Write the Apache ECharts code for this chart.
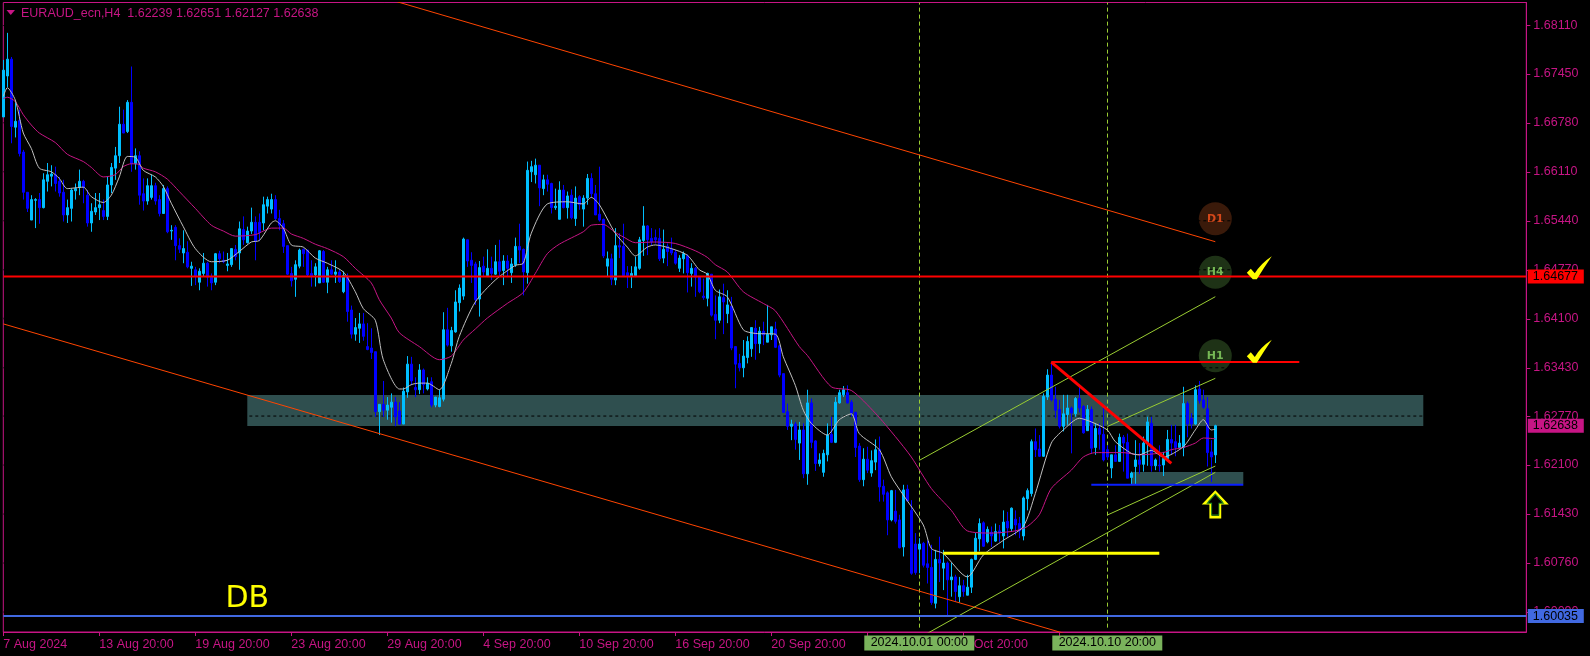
<!DOCTYPE html>
<html><head><meta charset="utf-8">
<style>html,body{margin:0;padding:0;background:#000}#c{width:1590px;height:656px}</style>
<script src="https://cdn.jsdelivr.net/npm/echarts@6/dist/echarts.min.js"></script>
</head><body><div id="c"></div>
<script>
const opens=[1.6686,1.6742,1.6765,1.6672,1.6681,1.6638,1.6583,1.6545,1.6572,1.6573,
1.6562,1.6598,1.6605,1.6607,1.6598,1.6583,1.6552,1.6561,1.6585,1.6590,
1.6598,1.6579,1.6541,1.6556,1.6562,1.6558,1.6550,1.6593,1.6616,1.6633,
1.6676,1.6666,1.6706,1.6622,1.6633,1.6581,1.6571,1.6576,1.6592,1.6573,
1.6554,1.6588,1.6530,1.6535,1.6510,1.6500,1.6501,1.6479,1.6477,1.6460,
1.6472,1.6486,1.6467,1.6460,1.6499,1.6490,1.6483,1.6484,1.6505,1.6500,
1.6532,1.6514,1.6530,1.6542,1.6542,1.6541,1.6564,1.6560,1.6573,1.6547,
1.6540,1.6510,1.6472,1.6464,1.6482,1.6505,1.6504,1.6472,1.6470,1.6459,
1.6502,1.6460,1.6477,1.6471,1.6474,1.6447,1.6468,1.6422,1.6389,1.6397,
1.6403,1.6372,1.6370,1.6365,1.6283,1.6293,1.6285,1.6289,1.6296,1.6284,
1.6266,1.6310,1.6348,1.6316,1.6313,1.6340,1.6314,1.6324,1.6292,1.6290,
1.6300,1.6395,1.6373,1.6392,1.6432,1.6441,1.6518,1.6490,1.6485,1.6437,
1.6482,1.6469,1.6479,1.6471,1.6488,1.6476,1.6489,1.6473,1.6484,1.6509,
1.6505,1.6473,1.6611,1.6607,1.6620,1.6588,1.6600,1.6595,1.6562,1.6546,
1.6586,1.6562,1.6579,1.6547,1.6577,1.6560,1.6575,1.6602,1.6581,1.6553,
1.6546,1.6482,1.6492,1.6463,1.6510,1.6509,1.6473,1.6468,1.6469,1.6479,
1.6517,1.6537,1.6520,1.6521,1.6520,1.6493,1.6509,1.6505,1.6501,1.6479,
1.6492,1.6496,1.6472,1.6479,1.6467,1.6441,1.6438,1.6471,1.6416,1.6408,
1.6439,1.6417,1.6427,1.6372,1.6349,1.6343,1.6357,1.6369,1.6397,1.6376,
1.6393,1.6378,1.6388,1.6396,1.6373,1.6335,1.6283,1.6263,1.6266,1.6240,
1.6258,1.6198,1.6295,1.6243,1.6212,1.6200,1.6224,1.6252,1.6241,1.6295,
1.6306,1.6309,1.6296,1.6282,1.6236,1.6190,1.6218,1.6199,1.6214,1.6231,
1.6181,1.6172,1.6135,1.6147,1.6135,1.6098,1.6177,1.6148,1.6102,1.6095,
1.6103,1.6075,1.6070,1.6021,1.6081,1.6069,1.6076,1.6053,1.6057,1.6030,
1.6045,1.6032,1.6043,1.6081,1.6109,1.6131,1.6105,1.6118,1.6106,1.6120,
1.6113,1.6133,1.6123,1.6136,1.6130,1.6113,1.6164,1.6171,1.6242,1.6232,
1.6222,1.6303,1.6333,1.6300,1.6286,1.6263,1.6279,1.6288,1.6280,1.6301,
1.6290,1.6257,1.6286,1.6234,1.6260,1.6252,1.6231,1.6206,1.6224,1.6215,
1.6248,1.6241,1.6193,1.6208,1.6217,1.6211,1.6239,1.6267,1.6209,1.6210,
1.6210,1.6219,1.6245,1.6242,1.6234,1.6234,1.6294,1.6274,1.6266,1.6314,
1.6299,1.6287,1.6228,1.62239];
const closes=[1.6750,1.6765,1.6673,1.6680,1.6636,1.6583,1.6561,1.6573,1.6573,1.6562,
1.6600,1.6607,1.6608,1.6595,1.6582,1.6552,1.6562,1.6586,1.6588,1.6598,
1.6590,1.6541,1.6557,1.6562,1.6566,1.6550,1.6593,1.6617,1.6633,1.6676,
1.6664,1.6706,1.6622,1.6633,1.6579,1.6571,1.6592,1.6592,1.6571,1.6554,
1.6588,1.6529,1.6531,1.6510,1.6505,1.6506,1.6481,1.6482,1.6468,1.6475,
1.6486,1.6467,1.6459,1.6499,1.6492,1.6488,1.6485,1.6506,1.6495,1.6533,
1.6518,1.6530,1.6542,1.6516,1.6528,1.6566,1.6573,1.6573,1.6547,1.6538,
1.6509,1.6471,1.6462,1.6484,1.6504,1.6499,1.6470,1.6469,1.6481,1.6503,
1.6460,1.6477,1.6471,1.6474,1.6461,1.6469,1.6420,1.6389,1.6398,1.6403,
1.6386,1.6368,1.6364,1.6283,1.6293,1.6285,1.6292,1.6296,1.6276,1.6266,
1.6311,1.6348,1.6325,1.6313,1.6340,1.6320,1.6322,1.6292,1.6303,1.6302,
1.6395,1.6374,1.6394,1.6433,1.6452,1.6519,1.6489,1.6483,1.6436,1.6480,
1.6474,1.6479,1.6472,1.6488,1.6475,1.6489,1.6479,1.6485,1.6509,1.6504,
1.6474,1.6613,1.6618,1.6620,1.6589,1.6600,1.6594,1.6562,1.6564,1.6586,
1.6562,1.6578,1.6548,1.6575,1.6566,1.6575,1.6602,1.6581,1.6552,1.6545,
1.6496,1.6492,1.6464,1.6510,1.6508,1.6469,1.6469,1.6472,1.6481,1.6518,
1.6537,1.6518,1.6515,1.6518,1.6492,1.6505,1.6502,1.6500,1.6486,1.6493,
1.6499,1.6473,1.6479,1.6467,1.6447,1.6439,1.6472,1.6415,1.6408,1.6440,
1.6433,1.6429,1.6370,1.6348,1.6343,1.6359,1.6379,1.6398,1.6376,1.6393,
1.6388,1.6389,1.6399,1.6371,1.6333,1.6282,1.6263,1.6266,1.6245,1.6258,
1.6198,1.6295,1.6241,1.6212,1.6217,1.6226,1.6251,1.6241,1.6296,1.6309,
1.6313,1.6295,1.6281,1.6234,1.6190,1.6218,1.6203,1.6216,1.6231,1.6180,
1.6170,1.6135,1.6175,1.6133,1.6097,1.6176,1.6161,1.6062,1.6063,1.6102,
1.6073,1.6070,1.6022,1.6081,1.6076,1.6076,1.6053,1.6057,1.6037,1.6045,
1.6037,1.6043,1.6081,1.6110,1.6130,1.6099,1.6122,1.6113,1.6119,1.6117,
1.6132,1.6124,1.6151,1.6128,1.6120,1.6165,1.6175,1.6242,1.6231,1.6222,
1.6304,1.6333,1.6299,1.6285,1.6263,1.6280,1.6288,1.6281,1.6301,1.6288,
1.6254,1.6286,1.6233,1.6260,1.6252,1.6217,1.6221,1.6224,1.6215,1.6248,
1.6240,1.6192,1.6199,1.6217,1.6211,1.6240,1.6269,1.6209,1.6217,1.6209,
1.6219,1.6245,1.6240,1.6234,1.6240,1.6294,1.6266,1.6266,1.6313,1.6298,
1.6289,1.6227,1.6221,1.62638];
const highs=[1.6764,1.6801,1.6768,1.6709,1.6696,1.6641,1.6583,1.6579,1.6575,1.6582,
1.6609,1.6623,1.6620,1.6618,1.6604,1.6600,1.6573,1.6588,1.6595,1.6614,
1.6600,1.6586,1.6568,1.6582,1.6582,1.6573,1.6604,1.6623,1.6645,1.6700,
1.6696,1.6709,1.6755,1.6643,1.6639,1.6602,1.6602,1.6607,1.6596,1.6579,
1.6593,1.6591,1.6538,1.6538,1.6520,1.6531,1.6516,1.6488,1.6481,1.6479,
1.6500,1.6488,1.6472,1.6500,1.6503,1.6502,1.6500,1.6506,1.6511,1.6543,
1.6550,1.6536,1.6562,1.6550,1.6554,1.6577,1.6577,1.6581,1.6579,1.6559,
1.6545,1.6510,1.6481,1.6490,1.6506,1.6506,1.6504,1.6490,1.6486,1.6504,
1.6504,1.6481,1.6490,1.6490,1.6477,1.6475,1.6472,1.6428,1.6411,1.6418,
1.6418,1.6404,1.6397,1.6365,1.6293,1.6325,1.6303,1.6308,1.6303,1.6296,
1.6316,1.6359,1.6358,1.6330,1.6348,1.6342,1.6330,1.6330,1.6303,1.6313,
1.6419,1.6425,1.6399,1.6449,1.6457,1.6521,1.6518,1.6501,1.6488,1.6489,
1.6495,1.6505,1.6495,1.6511,1.6518,1.6497,1.6497,1.6493,1.6521,1.6540,
1.6506,1.6625,1.6626,1.6629,1.6620,1.6607,1.6607,1.6596,1.6588,1.6598,
1.6593,1.6584,1.6587,1.6591,1.6579,1.6579,1.6608,1.6609,1.6593,1.6618,
1.6547,1.6502,1.6499,1.6534,1.6527,1.6540,1.6482,1.6482,1.6495,1.6522,
1.6564,1.6538,1.6534,1.6532,1.6534,1.6532,1.6513,1.6521,1.6504,1.6497,
1.6502,1.6498,1.6486,1.6481,1.6467,1.6465,1.6473,1.6471,1.6442,1.6450,
1.6458,1.6449,1.6440,1.6372,1.6362,1.6381,1.6386,1.6398,1.6408,1.6399,
1.6406,1.6429,1.6399,1.6406,1.6374,1.6335,1.6294,1.6272,1.6269,1.6269,
1.6267,1.6313,1.6301,1.6244,1.6226,1.6231,1.6267,1.6276,1.6303,1.6313,
1.6318,1.6319,1.6299,1.6283,1.6240,1.6233,1.6235,1.6230,1.6245,1.6249,
1.6190,1.6174,1.6176,1.6176,1.6142,1.6183,1.6183,1.6162,1.6117,1.6110,
1.6105,1.6107,1.6101,1.6094,1.6112,1.6094,1.6078,1.6076,1.6060,1.6057,
1.6053,1.6060,1.6082,1.6117,1.6137,1.6133,1.6126,1.6126,1.6130,1.6128,
1.6148,1.6146,1.6152,1.6148,1.6139,1.6167,1.6178,1.6245,1.6260,1.6251,
1.6308,1.6341,1.6351,1.6317,1.6299,1.6306,1.6306,1.6290,1.6303,1.6319,
1.6292,1.6292,1.6290,1.6267,1.6267,1.6290,1.6237,1.6224,1.6237,1.6253,
1.6251,1.6253,1.6201,1.6244,1.6240,1.6249,1.6276,1.6276,1.6219,1.6237,
1.6228,1.6258,1.6265,1.6265,1.6251,1.6317,1.6297,1.6281,1.6319,1.6325,
1.6313,1.6303,1.6244,1.62651];
const lows=[1.6686,1.6727,1.6650,1.6658,1.6632,1.6573,1.6556,1.6545,1.6534,1.6540,
1.6561,1.6584,1.6591,1.6584,1.6577,1.6543,1.6541,1.6543,1.6573,1.6579,
1.6568,1.6536,1.6529,1.6552,1.6545,1.6545,1.6545,1.6582,1.6600,1.6623,
1.6664,1.6664,1.6611,1.6614,1.6566,1.6558,1.6566,1.6573,1.6566,1.6550,
1.6554,1.6527,1.6518,1.6490,1.6500,1.6486,1.6479,1.6455,1.6456,1.6449,
1.6468,1.6454,1.6449,1.6456,1.6486,1.6486,1.6475,1.6481,1.6490,1.6477,
1.6511,1.6513,1.6526,1.6490,1.6516,1.6531,1.6554,1.6554,1.6545,1.6531,
1.6500,1.6470,1.6454,1.6440,1.6479,1.6481,1.6468,1.6454,1.6454,1.6459,
1.6459,1.6445,1.6470,1.6459,1.6459,1.6445,1.6406,1.6383,1.6380,1.6377,
1.6380,1.6367,1.6355,1.6276,1.6251,1.6276,1.6272,1.6268,1.6263,1.6265,
1.6266,1.6302,1.6319,1.6303,1.6307,1.6308,1.6312,1.6289,1.6289,1.6289,
1.6297,1.6372,1.6365,1.6391,1.6420,1.6436,1.6481,1.6459,1.6429,1.6413,
1.6467,1.6467,1.6463,1.6470,1.6467,1.6456,1.6467,1.6459,1.6481,1.6486,
1.6442,1.6458,1.6597,1.6595,1.6564,1.6579,1.6584,1.6554,1.6559,1.6546,
1.6561,1.6547,1.6546,1.6537,1.6559,1.6536,1.6566,1.6575,1.6552,1.6543,
1.6493,1.6467,1.6456,1.6456,1.6493,1.6467,1.6452,1.6452,1.6467,1.6477,
1.6496,1.6497,1.6511,1.6513,1.6489,1.6486,1.6482,1.6497,1.6484,1.6474,
1.6472,1.6446,1.6454,1.6440,1.6445,1.6436,1.6427,1.6413,1.6382,1.6404,
1.6389,1.6404,1.6367,1.6315,1.6338,1.6330,1.6349,1.6358,1.6354,1.6363,
1.6374,1.6378,1.6381,1.6370,1.6330,1.6281,1.6258,1.6244,1.6231,1.6217,
1.6192,1.6183,1.6233,1.6202,1.6208,1.6194,1.6215,1.6240,1.6240,1.6294,
1.6303,1.6294,1.6276,1.6221,1.6187,1.6181,1.6199,1.6194,1.6203,1.6160,
1.6160,1.6114,1.6133,1.6130,1.6096,1.6085,1.6160,1.6060,1.6060,1.6062,
1.6070,1.6048,1.6019,1.6014,1.6050,1.6039,1.6003,1.6030,1.6023,1.6022,
1.6030,1.6032,1.6035,1.6080,1.6092,1.6098,1.6103,1.6098,1.6105,1.6105,
1.6096,1.6112,1.6119,1.6114,1.6110,1.6107,1.6148,1.6167,1.6221,1.6221,
1.6221,1.6299,1.6297,1.6274,1.6260,1.6256,1.6265,1.6226,1.6276,1.6282,
1.6253,1.6257,1.6226,1.6224,1.6231,1.6215,1.6217,1.6192,1.6215,1.6215,
1.6201,1.6192,1.6183,1.6184,1.6198,1.6201,1.6209,1.6201,1.6203,1.6201,
1.6195,1.6217,1.6224,1.6222,1.6233,1.6222,1.6248,1.6260,1.6265,1.6294,
1.6287,1.6208,1.6187,1.62127];

// moving averages, read at selected bars: [bar, price]
const slowMA=[[0,1.6711],[1,1.6713],[3,1.6707],[5,1.6689],[7,1.6675],[9,1.6664],[13,1.6651],[16,1.6635],[20,1.6625],[22,1.6617],[25,1.6604],[28,1.6607],[30,1.6618],[32,1.6622],[34,1.6621],[35,1.6616],[38,1.6611],[41,1.6601],[44,1.6584],[48,1.6561],[52,1.6538],[55,1.6530],[58,1.6523],[63,1.6525],[65,1.6530],[67,1.6534],[70,1.6534],[72,1.6526],[75,1.6520],[78,1.6512],[81,1.6506],[85,1.6495],[88,1.6479],[92,1.6459],[94,1.6436],[97,1.6411],[99,1.6391],[104,1.6372],[109,1.6354],[112,1.6359],[115,1.6381],[118,1.6396],[121,1.6411],[126,1.6431],[130,1.6446],[133,1.6472],[136,1.6499],[139,1.6512],[145,1.6529],[147,1.6538],[150,1.6539],[153,1.6528],[155,1.6522],[158,1.6514],[163,1.6515],[168,1.6513],[173,1.6503],[176,1.6494],[178,1.6484],[181,1.6474],[185,1.6447],[190,1.6431],[193,1.6421],[199,1.6372],[201,1.6360],[207,1.6317],[212,1.6312],[218,1.6281],[223,1.6249],[227,1.6221],[232,1.6178],[237,1.6148],[241,1.6120],[247,1.6117],[253,1.6120],[256,1.6126],[259,1.6142],[262,1.6178],[267,1.6203],[270,1.6221],[273,1.6227],[280,1.6227],[284,1.6224],[290,1.6227],[292,1.6231],[295,1.6234],[298,1.6240],[300,1.6247],[303,1.6246]];
const fastMA=[[0,1.6714],[1,1.6726],[3,1.6709],[5,1.6664],[7,1.6643],[9,1.6616],[12,1.6611],[14,1.6602],[16,1.6588],[20,1.6590],[22,1.6577],[25,1.6569],[27,1.6579],[29,1.6604],[31,1.6632],[33,1.6631],[35,1.6613],[38,1.6604],[40,1.6591],[42,1.6568],[45,1.6536],[48,1.6506],[52,1.6488],[56,1.6490],[59,1.6502],[62,1.6515],[64,1.6517],[67,1.6541],[68,1.6544],[70,1.6534],[72,1.6511],[75,1.6508],[78,1.6493],[81,1.6486],[85,1.6474],[88,1.6447],[90,1.6424],[93,1.6408],[95,1.6354],[99,1.6314],[100,1.6314],[102,1.6320],[104,1.6322],[106,1.6322],[109,1.6313],[112,1.6349],[114,1.6386],[118,1.6433],[123,1.6463],[128,1.6483],[130,1.6486],[132,1.6527],[136,1.6567],[141,1.6570],[145,1.6567],[147,1.6576],[149,1.6566],[153,1.6527],[156,1.6508],[158,1.6496],[161,1.6508],[163,1.6511],[167,1.6506],[171,1.6497],[174,1.6477],[176,1.6471],[178,1.6449],[181,1.6440],[185,1.6395],[188,1.6390],[193,1.6389],[195,1.6358],[198,1.6319],[200,1.6285],[202,1.6267],[206,1.6251],[209,1.6272],[212,1.6280],[214,1.6253],[219,1.6231],[222,1.6194],[225,1.6169],[230,1.6128],[232,1.6096],[235,1.6089],[241,1.6057],[245,1.6087],[250,1.6107],[255,1.6126],[258,1.6171],[262,1.6240],[265,1.6258],[269,1.6274],[272,1.6269],[276,1.6258],[278,1.6242],[282,1.6226],[284,1.6224],[287,1.6230],[290,1.6221],[295,1.6235],[298,1.6258],[300,1.6272],[302,1.6258],[303,1.6259]];

const xLabels=['7 Aug 2024','13 Aug 20:00','19 Aug 20:00','23 Aug 20:00','29 Aug 20:00','4 Sep 20:00','10 Sep 20:00','16 Sep 20:00','20 Sep 20:00','26 Sep 20:00','2 Oct 20:00','8 Oct 20:00','14 Oct 20:00'];
const yTicks=[1.6811,1.6745,1.6678,1.6611,1.6544,1.6477,1.641,1.6343,1.6277,1.621,1.6143,1.6076,1.6009];
const titleText='EURAUD_ecn,H4  1.62239 1.62651 1.62127 1.62638';

// annotations: [bar, price, bar, price]
const orangeLines=[[90,1.68571,303,1.65154],[0,1.64030,270,1.59722]];
const greenLines=[[229,1.62164,303,1.64402],[276,1.62627,303,1.63286],[276,1.61416,303,1.62086],[229,1.59737,303,1.62000]];
const redHoriz=[262,1.63508,324,1.63508];
const redDiag=[262,1.63508,292,1.62123];
const blueHoriz=[272,1.61830,310,1.61830];
const yellowHoriz=[235,1.60893,289,1.60893];
const zones=[[61,355,1.62634,1.63057],[282,310,1.61840,1.62004]];
const vLines=[229.05,276.05];
const dateBoxes=[[229,'2024.10.01 00:00'],[276,'2024.10.10 20:00']];
const priceTags=[[1.64677,'#ff0000'],[1.62638,'#c71585'],[1.60035,'#4169e1']];
const circles=[[303,1.65468,'D1','#3a1a0a','#d4481a'],[303,1.64735,'H4','#1e3216','#76b855'],[303,1.63595,'H1','#1e3216','#76b855']];
const checks=[[314,1.64798],[314,1.63655]];
const arrow=[303,1.61560];
const dbLabel=[61,1.6026,'DB'];

const xMin=0,xMax=380.75,yMin=1.59817,yMax=1.68425;
const PINK='#c71585',LIGHT='#00bfff',DARK='#0000ff',FONT='Liberation Sans',FS=12.5;
const seg=(s,color,width,z,type)=>({type:'line',data:[[s[0],s[1]],[s[2],s[3]]],showSymbol:false,symbol:'none',silent:true,z,
  lineStyle:{color,width,type:type||'solid'},animation:false});
const ARROW='path://M11,0 L22,11 L16,11 L16,25 L6,25 L6,11 L0,11 Z';

const candleData=opens.map((o,i)=>[i,o,closes[i],lows[i],highs[i]]);
const series=[
 {type:'custom',z:1,silent:true,data:zones,clip:true,encode:{x:[0,1],y:[2,3]},
  renderItem:(p,api)=>{const a=api.coord([api.value(0),api.value(2)]),b=api.coord([api.value(1),api.value(3)]);
   return {type:'rect',shape:{x:a[0],y:b[1],width:b[0]-a[0],height:a[1]-b[1]},style:{fill:'#2f4f4f'}};}},
 {type:'scatter',z:1.1,silent:true,clip:false,symbol:'circle',symbolSize:33,
  data:circles.map(c=>({value:[c[0],c[1]],itemStyle:{color:c[3],opacity:1},
    label:{show:true,formatter:c[2],position:'inside',color:c[4],fontWeight:'bold',fontSize:11,fontFamily:'DejaVu Sans',opacity:1}}))},
 // the chart's price grid: black dashes, visible only over the zones and circles
 ...yTicks.map(t=>seg([xMin,t,xMax,t],'#000000',1,1.2,[3,3])),
 ...vLines.map(v=>seg([v,yMin+0.0006,v,yMax],'#9acd32',1,1.3,[4,3])),
 {type:'candlestick',z:2,silent:true,barWidth:3,data:candleData,encode:{x:0,y:[1,2,3,4]},
  itemStyle:{color:LIGHT,color0:DARK,borderColor:LIGHT,borderColor0:DARK,borderWidth:1}},
 {type:'line',z:3,data:slowMA,showSymbol:false,symbol:'none',silent:true,smooth:0.25,lineStyle:{color:PINK,width:1}},
 {type:'line',z:3,data:fastMA,showSymbol:false,symbol:'none',silent:true,smooth:0.25,lineStyle:{color:'#c0c0c0',width:1}},
 ...orangeLines.map(s=>seg(s,'#ff4500',1,3.2)),
 ...greenLines.map(s=>seg(s,'#9acd32',1,3.2)),
 seg([xMin,1.64677,xMax,1.64677],'#ff0000',2,4),
 seg([xMin,1.60035,xMax,1.60035],'#4169e1',2,4),
 seg(redHoriz,'#ff0000',2,4),
 seg(redDiag,'#ff0000',3,4),
 seg(blueHoriz,'#0a1fff',2,4),
 seg(yellowHoriz,'#ffff00',3,4),
 {type:'scatter',z:5,silent:true,clip:false,symbol:'path://M0,50 L12,38 L24,52 Q42,22 75,0 Q52,34 30,70 L18,70 Z',symbolSize:[25,23],
  symbolKeepAspect:false,itemStyle:{color:'#ffff00',opacity:1},data:checks},
 {type:'scatter',z:5,silent:true,clip:false,symbol:ARROW,symbolSize:[21,25],
  itemStyle:{color:'#000',borderColor:'#ffff00',borderWidth:2.5,opacity:1},data:[arrow]},
 {type:'scatter',z:5.1,silent:true,clip:false,symbol:ARROW,symbolSize:[16,21],
  itemStyle:{color:'#000',borderColor:'#1f8a1f',borderWidth:1,opacity:1},data:[arrow]},
 {type:'scatter',z:6,silent:true,clip:false,symbolSize:1,itemStyle:{color:'transparent',opacity:1},
  data:[{value:[dbLabel[0],dbLabel[1]],label:{show:true,position:'inside',formatter:dbLabel[2],color:'#ffff00',fontSize:30,fontFamily:'DejaVu Sans',opacity:1}}]},
 {type:'scatter',z:7,silent:true,clip:false,symbolSize:1,itemStyle:{color:'transparent',opacity:1},
  data:dateBoxes.map(d=>({value:[d[0],yMin],label:{show:true,position:'bottom',distance:3,formatter:d[1],color:'#000',backgroundColor:'#7ab35c',opacity:1,
   fontSize:FS,fontFamily:FONT,width:110,height:15,lineHeight:15,align:'center'}}))},
 {type:'scatter',z:7,silent:true,clip:false,symbolSize:1,itemStyle:{color:'transparent',opacity:1},
  data:priceTags.map(t=>({value:[xMax,t[0]],label:{show:true,position:'right',distance:1,formatter:t[0].toFixed(5),color:'#000',backgroundColor:t[1],opacity:1,
   fontSize:FS,fontFamily:FONT,padding:[0,5,0,5],width:46,height:14,lineHeight:14,align:'left'}}))}
];

const chart=echarts.init(document.getElementById('c'),null,{renderer:'canvas'});
chart.setOption({
 animation:false,backgroundColor:'#000',
 title:{text:titleText,left:21,top:7,padding:0,textStyle:{color:PINK,fontSize:FS,fontWeight:'normal',fontFamily:FONT}},
 graphic:[{type:'polygon',shape:{points:[[6.5,10],[15,10],[10.75,15]]},style:{fill:PINK},z:10}],
 grid:{left:3.3,top:2.5,width:1523,height:629.5,show:true,borderColor:PINK,borderWidth:1,backgroundColor:'#000',containLabel:false},
 xAxis:{type:'value',min:xMin,max:xMax,interval:24,splitLine:{show:false},
  axisLine:{show:true,onZero:false,lineStyle:{color:PINK,width:1}},
  axisTick:{show:true,length:4,customValues:xLabels.map((_,k)=>k*24),lineStyle:{color:PINK}},
  axisLabel:{show:true,customValues:xLabels.map((_,k)=>k*24),showMaxLabel:false,align:'left',margin:6,color:PINK,fontSize:FS,fontFamily:FONT,
   formatter:v=>xLabels[v/24]||''}},
 yAxis:{type:'value',position:'right',min:yMin,max:yMax,splitLine:{show:false},
  axisLine:{show:true,onZero:false,lineStyle:{color:PINK,width:1}},
  axisTick:{show:true,length:4,customValues:yTicks,lineStyle:{color:PINK}},
  axisLabel:{show:true,customValues:yTicks,margin:7,color:PINK,fontSize:FS,fontFamily:FONT,formatter:v=>v.toFixed(5)}},
 series
});
</script></body></html>
